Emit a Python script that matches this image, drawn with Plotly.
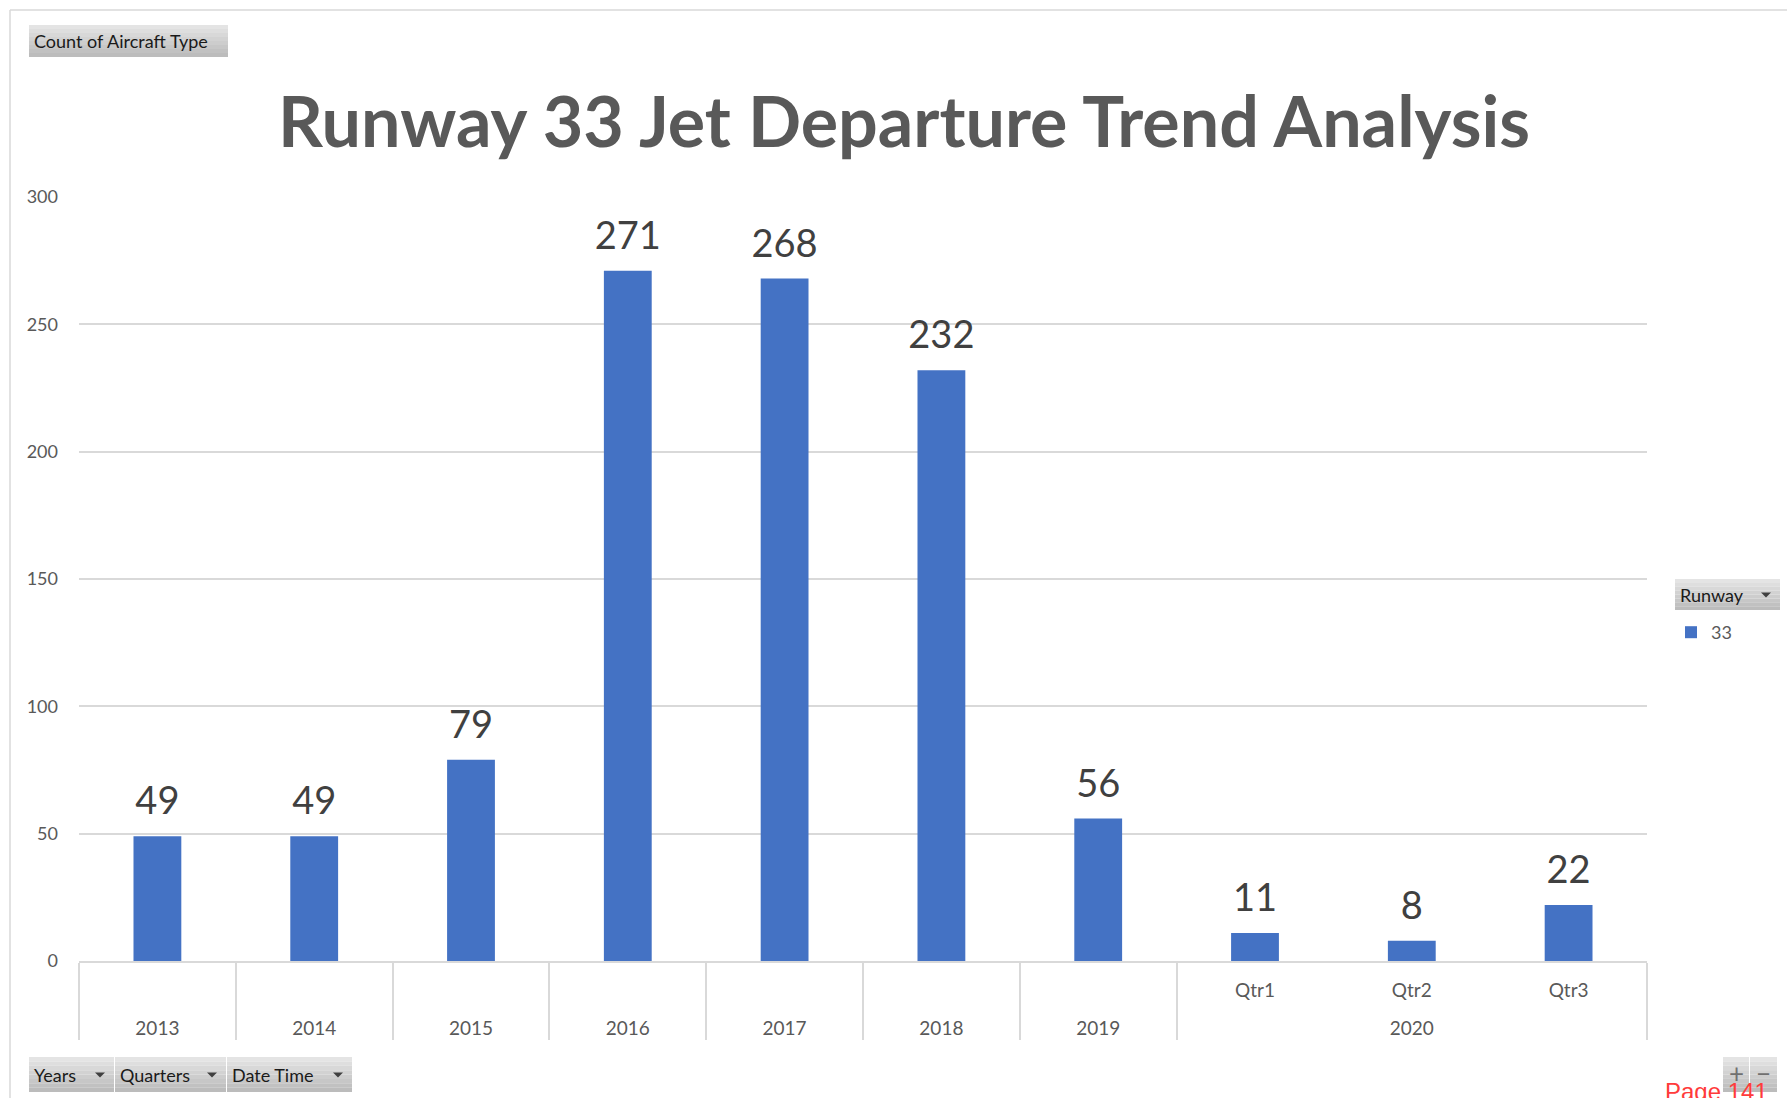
import plotly.graph_objects as go

# ---- data ----
outer_labels = ["2013", "2014", "2015", "2016", "2017", "2018", "2019", "2020", "2020", "2020"]
inner_labels = [" ", " ", " ", " ", " ", " ", " ", "Qtr1", "Qtr2", "Qtr3"]
counts = [49, 49, 79, 271, 268, 232, 56, 11, 8, 22]
series_name = "33"
y_ticks = [0, 50, 100, 150, 200, 250, 300]

W, H = 1787, 1098
L, R, T, B = 79, 1647, 197, 961  # plot area in pixels

def px(x):
    return (x - L) / (R - L)

def py(y):
    return (B - y) / (B - T)

BAR = "#4472C4"
TXT = "#595959"
GRID = "#D9D9D9"
FONT = "Lato, 'Open Sans', sans-serif"

xcats = [outer_labels, [lab + "<br> " for lab in inner_labels]]

fig = go.Figure()
fig.add_trace(go.Bar(
    x=xcats, y=counts, name=series_name,
    marker=dict(color=BAR, line=dict(width=0)),
    hoverinfo="x+y",
))
# data labels
fig.add_trace(go.Scatter(
    x=xcats, y=counts, mode="markers+text", showlegend=False,
    marker=dict(size=18, color="rgba(0,0,0,0)"),
    text=[str(v) for v in counts], textposition="top center",
    textfont=dict(size=38, color="#404040", family=FONT),
    cliponaxis=False, hoverinfo="skip",
))

shapes = []
annotations = []

# outer border lines
shapes.append(dict(type="line", xref="paper", yref="paper", x0=px(10), x1=px(W + 5), y0=py(10), y1=py(10),
                   line=dict(color=GRID, width=1.5)))
shapes.append(dict(type="line", xref="paper", yref="paper", x0=px(10), x1=px(10), y0=py(10), y1=py(H + 5),
                   line=dict(color=GRID, width=1.5)))

def button(x0, y0, x1, y1, label, arrow=True, size=18):
    n = 8
    for i in range(n):
        t = i / (n - 1)
        c = int(228 - 40 * t)
        shapes.append(dict(type="rect", xref="paper", yref="paper",
                           x0=px(x0), x1=px(x1),
                           y0=py(y0 + (y1 - y0) * i / n), y1=py(y0 + (y1 - y0) * (i + 1) / n),
                           fillcolor=f"rgb({c},{c},{c})", line=dict(width=0), layer="above"))
    if label:
        annotations.append(dict(xref="paper", yref="paper", x=px(x0 + 3), y=py((y0 + y1) / 2),
                                xanchor="left", yanchor="middle", text=label, showarrow=False,
                                font=dict(size=size, color="#1a1a1a", family=FONT)))
    if arrow:
        ax = x1 - 14
        ay = (y0 + y1) / 2
        path = f"M {px(ax-5)} {py(ay-2)} L {px(ax+5)} {py(ay-2)} L {px(ax)} {py(ay+3)} Z"
        shapes.append(dict(type="path", xref="paper", yref="paper", path=path,
                           fillcolor="#404040", line=dict(width=0), layer="above"))

button(29, 25, 228, 57, "Count of Aircraft Type", arrow=False)
button(29, 1057, 114, 1092, "Years")
button(115, 1057, 226, 1092, "Quarters")
button(227, 1057, 352, 1092, "Date Time")
button(1675, 579, 1780, 610, "Runway")
button(1723, 1057, 1749, 1092, "", arrow=False)
button(1750, 1057, 1777, 1092, "", arrow=False)
annotations.append(dict(xref="paper", yref="paper", x=px(1736), y=py(1073), xanchor="center", yanchor="middle",
                        text="+", showarrow=False, font=dict(size=26, color="#707070", family=FONT)))
annotations.append(dict(xref="paper", yref="paper", x=px(1763), y=py(1073), xanchor="center", yanchor="middle",
                        text="−", showarrow=False, font=dict(size=26, color="#707070", family=FONT)))
annotations.append(dict(xref="paper", yref="paper", x=px(1716), y=py(1076), xanchor="center", yanchor="top",
                        text="Page 141", showarrow=False,
                        font=dict(size=24, color="#FF3B3B", family="Liberation Sans, Arial")))

fig.update_layout(
    width=W, height=H,
    margin=dict(l=L, r=W - R, t=T, b=H - B),
    paper_bgcolor="white", plot_bgcolor="white",
    title=dict(text="<b>Runway 33 Jet Departure Trend Analysis</b>", x=904 / W, xanchor="center",
               xref="container", y=1 - 122 / H, yanchor="middle",
               font=dict(size=70, color=TXT, family=FONT)),
    bargap=0.695,
    showlegend=True,
    legend=dict(x=px(1671), y=py(614), xanchor="left", yanchor="top",
                font=dict(size=18, color=TXT, family=FONT), bgcolor="rgba(0,0,0,0)",
                itemwidth=30),
    shapes=shapes, annotations=annotations,
    font=dict(family=FONT, color=TXT),
    hovermode="closest",
)
fig.update_yaxes(range=[0, 300], tickvals=y_ticks, showgrid=True, gridcolor=GRID, gridwidth=1.5,
                 zeroline=False, showline=False, ticks="", ticklabelstandoff=20,
                 tickfont=dict(size=18, color=TXT, family=FONT))
fig.update_xaxes(type="multicategory", range=[-0.5, len(counts) - 0.5], autorange=False,
                 showline=True, linecolor=GRID, linewidth=1.5,
                 showdividers=True, dividercolor=GRID, dividerwidth=1.5,
                 ticks="", ticklabelstandoff=11, tickfont=dict(size=19, color=TXT, family=FONT))

fig.write_html("out.html", config={"displayModeBar": False},
               post_script="document.body.style.margin='0';")
